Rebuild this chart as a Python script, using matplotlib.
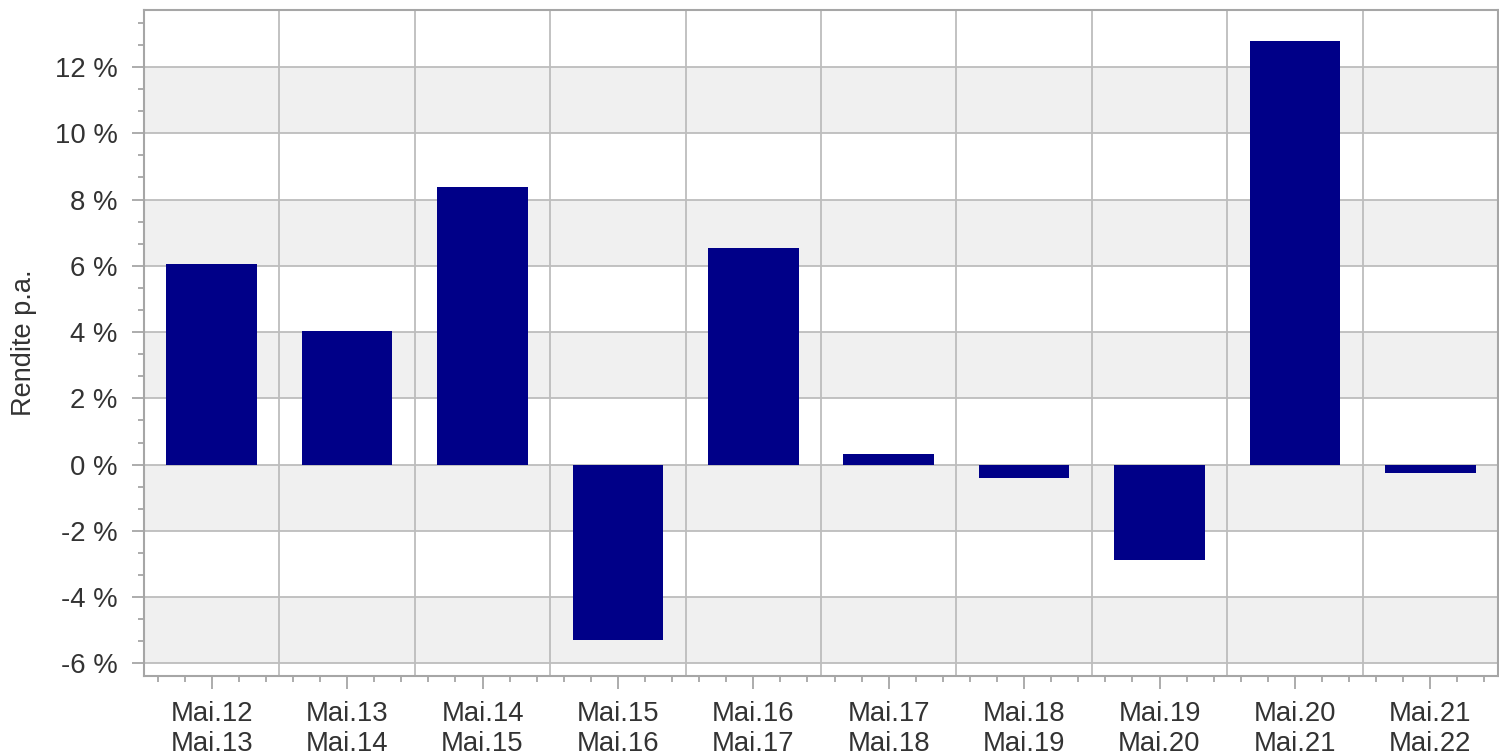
"""
Rendite p.a. Balkendiagramm
"""

import matplotlib.pyplot as plt
import matplotlib
import numpy as np
from matplotlib.ticker import MultipleLocator, FuncFormatter

matplotlib.rcParams['font.family'] = ['Liberation Sans', 'DejaVu Sans']

# Daten
periods = ['Mai.12\nMai.13', 'Mai.13\nMai.14', 'Mai.14\nMai.15', 'Mai.15\nMai.16',
           'Mai.16\nMai.17', 'Mai.17\nMai.18', 'Mai.18\nMai.19', 'Mai.19\nMai.20',
           'Mai.20\nMai.21', 'Mai.21\nMai.22']
returns = [6.05, 4.02, 8.37, -5.28, 6.53, 0.33, -0.39, -2.87, 12.79, -0.24]

BAR_COLOR = '#000088'
BAND_COLOR = '#f0f0f0'
GRID_COLOR = '#bdbdbd'
SPINE_COLOR = '#a6a6a6'
TEXT_COLOR = '#333333'


def main():
    fig = plt.figure(figsize=(14.99, 7.55), dpi=100)
    ax = fig.add_axes([144 / 1499, (755 - 676) / 755, (1498 - 144) / 1499, (676 - 10) / 755])

    x = np.arange(len(periods))
    ymin, ymax = -6.38, 13.72
    ax.set_xlim(-0.5, len(periods) - 0.5)
    ax.set_ylim(ymin, ymax)

    # abwechselnde Hintergrundbaender
    for lo in np.arange(-6, 12, 4):
        ax.axhspan(lo, lo + 2, color=BAND_COLOR, zorder=0, lw=0)

    # Gitterlinien
    for yv in np.arange(-6, 13, 2):
        ax.axhline(yv, color=GRID_COLOR, lw=1.3, zorder=1)
    for xv in x[:-1] + 0.5:
        ax.axvline(xv, color=GRID_COLOR, lw=1.3, zorder=1)

    ax.bar(x, returns, width=0.67, color=BAR_COLOR, zorder=2)

    # Achsen
    for side in ['top', 'right', 'left', 'bottom']:
        ax.spines[side].set_color(SPINE_COLOR)
        ax.spines[side].set_linewidth(1.5)

    ax.set_xticks(x)
    ax.set_xticklabels(periods, fontsize=19.8, color=TEXT_COLOR, linespacing=1.2)
    ax.xaxis.set_minor_locator(MultipleLocator(0.2))
    ax.yaxis.set_major_locator(MultipleLocator(2))
    ax.yaxis.set_minor_locator(MultipleLocator(2 / 3))
    ax.yaxis.set_major_formatter(FuncFormatter(lambda v, p: f'{v:.0f} %'))
    ax.tick_params(axis='y', labelsize=19.8, labelcolor=TEXT_COLOR)
    ax.tick_params(which='major', length=9, width=1.3, color=SPINE_COLOR, pad=10)
    ax.tick_params(which='minor', length=4, width=1.3, color=SPINE_COLOR)
    ax.tick_params(axis='x', which='major', pad=9)

    ax.set_ylabel('Rendite p.a.', fontsize=19.5, color=TEXT_COLOR)
    ax.yaxis.set_label_coords(-0.079, 0.5)

    fig.savefig('out.png', dpi=100, facecolor='white')
    plt.close(fig)


if __name__ == '__main__':
    main()
